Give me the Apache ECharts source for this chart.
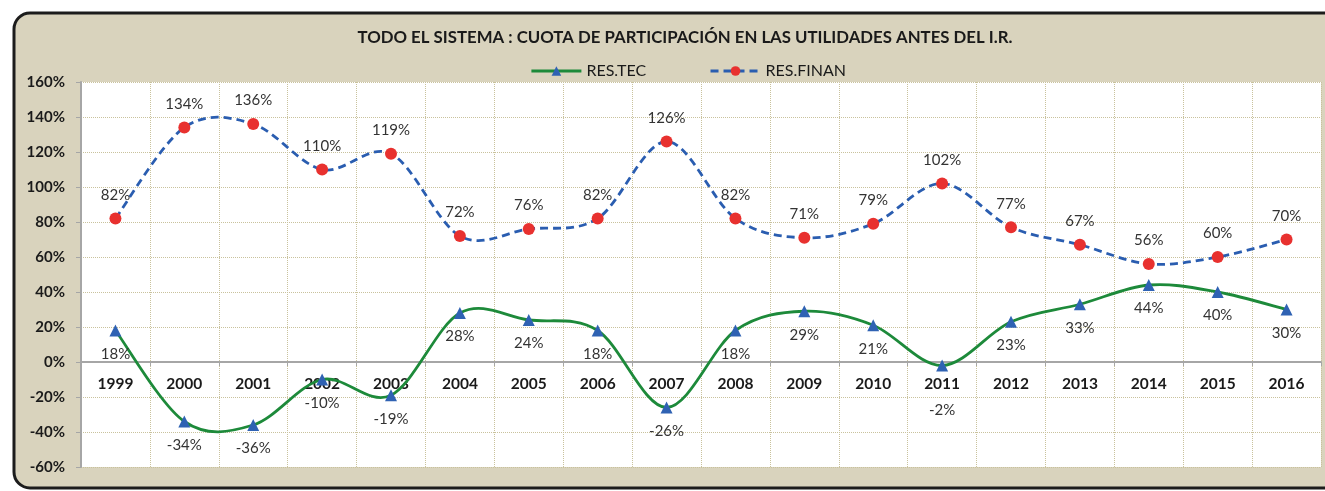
<!DOCTYPE html>
<html>
<head>
<meta charset="utf-8">
<script src="https://cdn.jsdelivr.net/npm/echarts@6/dist/echarts.min.js"></script>
<style>
  html, body { margin: 0; padding: 0; background: #fff; }
  #chart { width: 1325px; height: 491px; }
</style>
</head>
<body>
<div id="chart"></div>
<script>
// datos
var years = ['1999', '2000', '2001', '2002', '2003', '2004', '2005', '2006', '2007',
  '2008', '2009', '2010', '2011', '2012', '2013', '2014', '2015', '2016'];
var resTec = [18, -34, -36, -10, -19, 28, 24, 18, -26, 18, 29, 21, -2, 23, 33, 44, 40, 30];
var resFinan = [82, 134, 136, 110, 119, 72, 76, 82, 126, 82, 71, 79, 102, 77, 67, 56, 60, 70];

var FONT = 'Lato, "Open Sans", sans-serif';
var gridColor = '#c9c29c';
var green = '#1d8a3a';
var blue = '#2a5db0';
var dash = [8, 5];

// curva suavizada tipo Excel (catmull-rom) usando las coordenadas del eje
function smoothCurve(values, stroke, lineDash) {
  return function (params, api) {
    if (params.dataIndex !== 0) return null;
    var pts = values.map(function (v, i) { return api.coord([i, v]); });
    var n = pts.length;
    var t = 1 / 6;
    var d = 'M' + pts[0][0] + ' ' + pts[0][1];
    for (var i = 0; i < n - 1; i++) {
      var p0 = pts[Math.max(i - 1, 0)], p1 = pts[i], p2 = pts[i + 1], p3 = pts[Math.min(i + 2, n - 1)];
      var c1x = p1[0] + (p2[0] - p0[0]) * t, c1y = p1[1] + (p2[1] - p0[1]) * t;
      var c2x = p2[0] - (p3[0] - p1[0]) * t, c2y = p2[1] - (p3[1] - p1[1]) * t;
      d += ' C' + c1x + ' ' + c1y + ' ' + c2x + ' ' + c2y + ' ' + p2[0] + ' ' + p2[1];
    }
    return {
      type: 'path',
      shape: { pathData: d },
      style: { fill: null, stroke: stroke, lineWidth: 2.8, lineDash: lineDash || null }
    };
  };
}

// la etiqueta de 2011 va debajo del año, como en el original
var tecData = resTec.map(function (v, i) {
  return years[i] === '2011' ? { value: v, label: { distance: 31 } } : v;
});

var myChart = echarts.init(document.getElementById('chart'));

var option = {
  backgroundColor: '#fff',
  animation: false,
  graphic: [{
    type: 'rect',
    z: -10,
    silent: true,
    shape: { x: 14, y: 13, width: 1340, height: 475, r: 16 },
    style: { fill: '#d9d3bd', stroke: '#1c1c1c', lineWidth: 3 }
  }],
  title: {
    text: 'TODO EL SISTEMA : CUOTA DE PARTICIPACIÓN EN LAS UTILIDADES ANTES DEL I.R.',
    left: 680,
    textAlign: 'center',
    top: 24,
    textStyle: { fontFamily: FONT, fontSize: 16.8, fontWeight: 'bold', color: '#1a1a1a' }
  },
  legend: {
    top: 58,
    left: 525,
    itemGap: 63,
    itemWidth: 50,
    itemHeight: 12,
    textStyle: { fontFamily: FONT, fontSize: 16, color: '#1a1a1a' },
    data: [
      { name: 'RES.TEC', lineStyle: { color: green, width: 2.8, opacity: 1 } },
      { name: 'RES.FINAN', lineStyle: { color: blue, width: 2.8, type: dash, opacity: 1 } }
    ]
  },
  grid: {
    left: 81,
    right: 4,
    top: 82,
    bottom: 24,
    show: true,
    backgroundColor: '#fff',
    borderWidth: 0
  },
  xAxis: {
    type: 'category',
    data: years,
    boundaryGap: true,
    offset: -105,
    axisLine: { onZero: false, lineStyle: { color: '#a6a6a6', width: 2 } },
    axisTick: { show: true, length: 4, lineStyle: { color: '#a6a6a6' } },
    axisLabel: { fontFamily: FONT, fontSize: 15.5, fontWeight: 'bold', color: '#1a1a1a', margin: 14 },
    splitLine: { show: true, lineStyle: { color: gridColor, type: 'dotted', width: 1 } }
  },
  yAxis: {
    type: 'value',
    min: -60,
    max: 160,
    interval: 20,
    axisLine: { show: true, lineStyle: { color: '#a6a6a6', width: 2 } },
    axisTick: { show: true, length: 5, inside: false, lineStyle: { color: '#a6a6a6' } },
    axisLabel: {
      fontFamily: FONT, fontSize: 15, fontWeight: 'bold', color: '#1a1a1a', margin: 16,
      formatter: '{value}%'
    },
    splitLine: { show: true, lineStyle: { color: gridColor, type: 'dotted', width: 1 } }
  },
  series: [{
    name: 'RES.TEC',
    type: 'line',
    data: tecData,
    symbol: 'triangle',
    symbolSize: 12,
    itemStyle: { color: '#2f62b3' },
    lineStyle: { color: green, width: 2.8, opacity: 0 },
    label: {
      show: true,
      position: 'bottom',
      distance: 10,
      formatter: '{c}%',
      fontFamily: FONT, fontSize: 15, color: '#333'
    },
    z: 4
  }, {
    name: 'RES.FINAN',
    type: 'line',
    data: resFinan,
    symbol: 'circle',
    symbolSize: 12,
    itemStyle: { color: '#e8312f' },
    lineStyle: { color: blue, width: 2.8, type: dash, opacity: 0 },
    label: {
      show: true,
      position: 'top',
      distance: 10,
      formatter: '{c}%',
      fontFamily: FONT, fontSize: 15, color: '#333'
    },
    z: 4
  }, {
    name: 'curvaTec',
    type: 'custom',
    data: resTec.map(function (v, i) { return [i, v]; }),
    encode: { x: 0, y: 1 },
    renderItem: smoothCurve(resTec, green),
    silent: true,
    z: 2
  }, {
    name: 'curvaFinan',
    type: 'custom',
    data: resFinan.map(function (v, i) { return [i, v]; }),
    encode: { x: 0, y: 1 },
    renderItem: smoothCurve(resFinan, blue, dash),
    silent: true,
    z: 2
  }]
};

myChart.setOption(option);
</script>
</body>
</html>
